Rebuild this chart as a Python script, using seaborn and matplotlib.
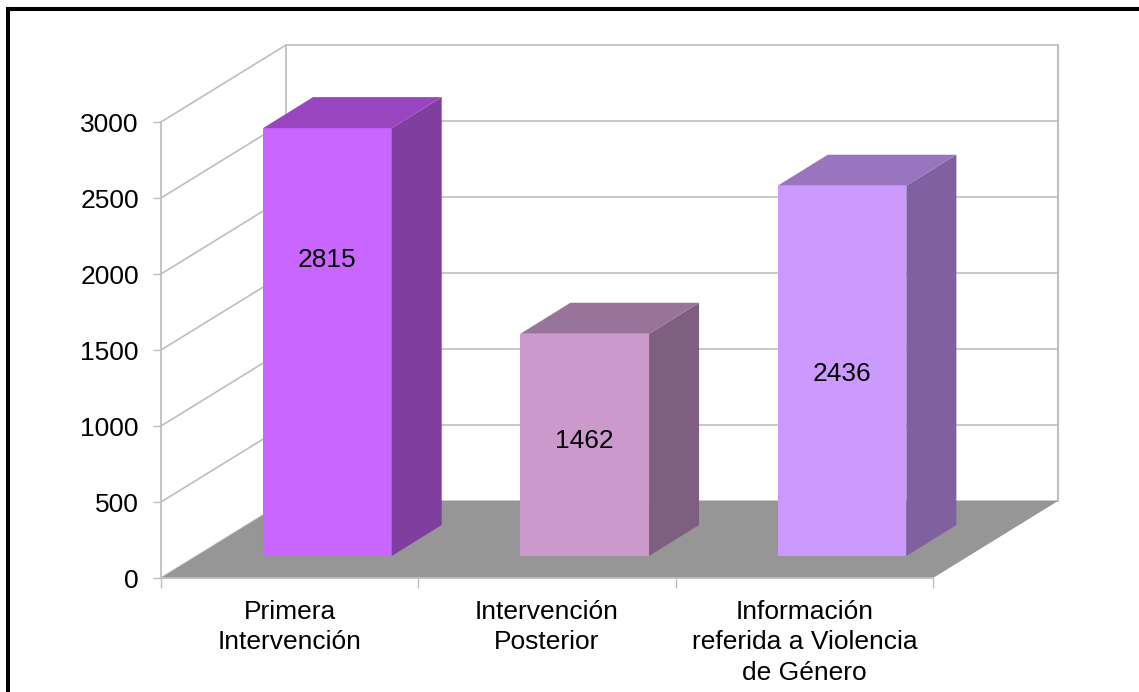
import matplotlib
matplotlib.use("Agg")
import matplotlib.pyplot as plt
import seaborn as sns
from matplotlib.lines import Line2D
from matplotlib.patches import Polygon

categories = ["Primera\nIntervención", "Intervención\nPosterior", "Información\nreferida a Violencia\nde Género"]
values = [2815, 1462, 2436]
y_ticks = [0, 500, 1000, 1500, 2000, 2500, 3000]

front_colors = ["#C966FF", "#CC99CC", "#CC99FF"]
side_colors = ["#7F3F9F", "#7F5F7F", "#7F60A0"]
top_colors = ["#9945BF", "#99749A", "#9975BF"]
label_pos = [0.691, 0.518, 0.491]  # where the number sits inside each bar

# pixel layout of the picture
W, H = 1139, 692
AX_L, AX_R, AX_B, AX_T = 161, 933, 578, 122
UX = (AX_R - AX_L) / 3
UY = (AX_B - AX_T) / 3000

# fake 3D depth, converted to data units
wall_dx, wall_dy = 125 / UX, 77 / UY
bar_dx, bar_dy = 50 / UX, 31 / UY
shift_x, shift_y = 37.7 / UX, 22 / UY

GRID = "#BFBFBF"
FONT = 19

sns.set_theme(style="white")
plt.rcParams["font.family"] = ["Liberation Sans", "DejaVu Sans"]

fig = plt.figure(figsize=(W / 100, H / 100), dpi=100)
ax = fig.add_axes([AX_L / W, 1 - AX_B / H, (AX_R - AX_L) / W, (AX_B - AX_T) / H])
ax.patch.set_alpha(0)

sns.barplot(x=categories, y=values, hue=categories, palette=front_colors,
            width=0.5, legend=False, saturation=1, linewidth=0, ax=ax, zorder=3)
bars = list(ax.patches)
ax.set_xlim(-0.5, 2.5)
ax.set_ylim(0, 3000)

# back wall and side wall
x0, x1 = -0.5, 2.5
for t in y_ticks:
    ax.plot([x0, x0 + wall_dx, x1 + wall_dx], [t, t + wall_dy, t + wall_dy],
            color=GRID, lw=1.2, clip_on=False, zorder=1)
ax.plot([x0 + wall_dx] * 2, [wall_dy, 3000 + wall_dy], color=GRID, lw=1.3, clip_on=False, zorder=1)
ax.plot([x1 + wall_dx] * 2, [wall_dy, 3000 + wall_dy], color=GRID, lw=1.5, clip_on=False, zorder=1)

# floor
ax.add_patch(Polygon([(x0, 0), (x1, 0), (x1 + wall_dx, wall_dy), (x0 + wall_dx, wall_dy)],
                     facecolor="#969696", edgecolor="none", clip_on=False, zorder=2))

# move bars back on the floor and add their top and side faces
for i, p in enumerate(bars):
    p.set_x(p.get_x() + shift_x)
    p.set_y(shift_y)
    p.set_edgecolor("none")
    p.set_clip_on(False)
    left = p.get_x()
    right = left + p.get_width()
    low = p.get_y()
    high = low + p.get_height()
    ax.add_patch(Polygon([(right, low), (right + bar_dx, low + bar_dy),
                          (right + bar_dx, high + bar_dy), (right, high)],
                         facecolor=side_colors[i], edgecolor="none", clip_on=False, zorder=3))
    ax.add_patch(Polygon([(left, high), (right, high),
                          (right + bar_dx, high + bar_dy), (left + bar_dx, high + bar_dy)],
                         facecolor=top_colors[i], edgecolor="none", clip_on=False, zorder=3))
    ax.text((left + right) / 2, low + values[i] * label_pos[i], str(values[i]),
            ha="center", va="center", fontsize=FONT, color="black", zorder=4)

# axes
sns.despine(ax=ax)
for side in ["left", "bottom"]:
    ax.spines[side].set_color(GRID)
    ax.spines[side].set_linewidth(1.3)
ax.set_yticks(y_ticks)
ax.set_xticks([-0.5, 0.5, 1.5, 2.5], minor=True)
ax.tick_params(axis="y", left=True, length=6, width=1, color=GRID, pad=10,
               labelsize=FONT, labelcolor="black")
ax.tick_params(axis="x", which="major", bottom=False, pad=10, labelsize=FONT, labelcolor="black")
ax.tick_params(axis="x", which="minor", bottom=True, length=7, width=1, color=GRID)
ax.set_xlabel("")
ax.set_ylabel("")
for lab in ax.get_xticklabels():
    lab.set_linespacing(1.33)

# black frame, only on the left and the top
fig.add_artist(Line2D([8 / W, 8 / W], [0, 1 - 7 / H], color="black", lw=2.9, solid_capstyle="butt"))
fig.add_artist(Line2D([6 / W, 1], [1 - 9 / H, 1 - 9 / H], color="black", lw=2.9, solid_capstyle="butt"))

fig.savefig("out.png", dpi=100)
